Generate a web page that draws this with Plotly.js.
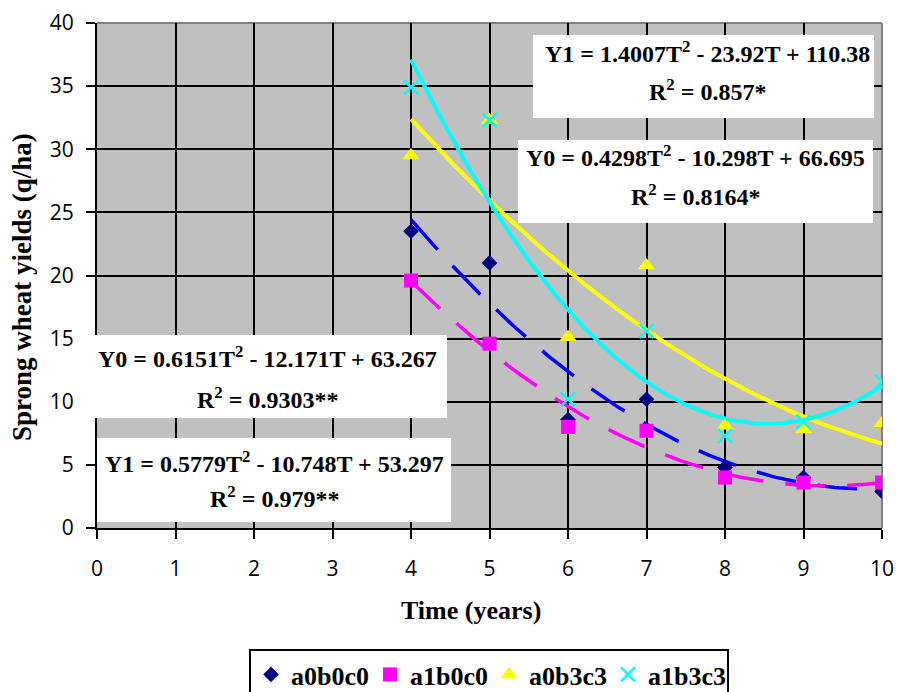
<!DOCTYPE html>
<html><head><meta charset="utf-8">
<script src="https://cdn.plot.ly/plotly-3.0.1.min.js"></script>
<style>html,body{margin:0;padding:0;background:#fff;} #chart{width:897px;height:692px;}</style>
</head><body><div id="chart"></div>
<script>
// ---- data ----
const years = [4, 5, 6, 7, 8, 9, 10];
const a0b0c0 = [23.5, 21.0, 8.6, 10.2, 4.8, 4.0, 2.9];
const a1b0c0 = [19.6, 14.6, 8.0, 7.7, 4.0, 3.6, 3.6];
const a0b3c3 = [29.5, 32.3, 15.1, 20.8, 8.1, 7.8, 8.3];
const a1b3c3 = [34.9, 32.3, 10.2, 15.6, 7.3, 8.4, 11.6];
const seriesNames = ['a0b0c0', 'a1b0c0', 'a0b3c3', 'a1b3c3'];
// quadratic trendline coefficients [a, b, c] : a*T^2 + b*T + c (printed on the chart)
const fitA0b0c0 = [0.6151, -12.171, 63.267];
const fitA1b0c0 = [0.5779, -10.748, 53.297];
const fitA0b3c3 = [0.4298, -10.298, 66.695];
const fitA1b3c3 = [1.4007, -23.92, 110.38];
const fitNames = ['Y0', 'Y1', 'Y0', 'Y1'];
const r2Values = ['0.9303**', '0.979**', '0.8164*', '0.857*'];
const xTickVals = [0, 1, 2, 3, 4, 5, 6, 7, 8, 9, 10];
const yTickVals = [0, 5, 10, 15, 20, 25, 30, 35, 40];
const xTitle = 'Time (years)';
const yTitle = 'Sprong wheat yields (q/ha)';

// ---- helpers ----
const W = 897, H = 692, ML = 97, MR = 15, MT = 23, MB = 164;
const PW = W - ML - MR, PH = H - MT - MB;
const X = p => (p - ML) / PW;
const Y = p => (H - MB - p) / PH;

const fits = [fitA0b0c0, fitA1b0c0, fitA0b3c3, fitA1b3c3];
const series = [a0b0c0, a1b0c0, a0b3c3, a1b3c3];
const trendX = [];
for (let i = 0; i <= 120; i++) trendX.push(years[0] + i * (years[years.length - 1] - years[0]) / 120);
const evalFit = (c, t) => c[0] * t * t + c[1] * t + c[2];

const lineColors = ['#0000FF', '#FF00FF', '#FFFF00', '#00FFFF'];
const lineDash = ['40px,22px', '40px,22px', 'solid', 'solid'];
const lineWidth = [3.5, 3.5, 4, 4];
const markerSym = ['diamond', 'square', 'triangle-up', 'x-thin'];
const markerCol = ['#000080', '#FF00FF', '#FFFF00', '#00FFFF'];
const markerSize = [12, 14, 15, 14];

const traces = [];
fits.forEach((c, i) => {
  traces.push({
    x: trendX, y: trendX.map(t => evalFit(c, t)), mode: 'lines', showlegend: false,
    hoverinfo: 'skip', line: {color: lineColors[i], width: lineWidth[i], dash: lineDash[i], shape: 'linear'}
  });
});
series.forEach((s, i) => {
  const m = {symbol: markerSym[i], color: markerCol[i], size: markerSize[i]};
  if (markerSym[i] === 'x-thin') m.line = {color: markerCol[i], width: 2.5};
  else m.line = {width: 0};
  traces.push({x: years, y: s, mode: 'markers', name: seriesNames[i], marker: m});
});

// equation boxes (pixel geometry) : order matches fits
const boxes = [
  {x0: 83, x1: 447, y0: 335, y1: 418, l1: 357, l2: 398, cx: 267},
  {x0: 97, x1: 451, y0: 438, y1: 522, l1: 462, l2: 497, cx: 274},
  {x0: 518, x1: 873, y0: 140, y1: 223, l1: 156, l2: 195, cx: 695},
  {x0: 533, x1: 874, y0: 35, y1: 118, l1: 52, l2: 90, cx: 707}
];
const fmt = v => String(Math.abs(v));
const shapes = [
  {type: 'line', xref: 'paper', yref: 'paper', x0: 0, x1: 1, y0: 1, y1: 1, line: {color: '#808080', width: 2}, layer: 'between'},
  {type: 'line', xref: 'paper', yref: 'paper', x0: 1, x1: 1, y0: 0, y1: 1, line: {color: '#808080', width: 2}, layer: 'between'}
];
const serif = {family: '"Liberation Serif", "Times New Roman", serif', size: 24, color: '#000', weight: 'bold'};
const annotations = [];
boxes.forEach((b, i) => {
  shapes.push({type: 'rect', xref: 'paper', yref: 'paper', x0: X(b.x0), x1: X(b.x1), y0: Y(b.y1), y1: Y(b.y0),
    fillcolor: '#FFFFFF', line: {width: 0}, layer: 'above'});
  const c = fits[i];
  const eq = fitNames[i] + ' = ' + fmt(c[0]) + 'T<sup>2</sup> ' + (c[1] < 0 ? '- ' : '+ ') + fmt(c[1]) + 'T ' + (c[2] < 0 ? '- ' : '+ ') + fmt(c[2]);
  annotations.push({xref: 'paper', yref: 'paper', x: X(b.cx), y: Y(b.l1), text: eq, showarrow: false,
    xanchor: 'center', yanchor: 'middle', font: serif});
  annotations.push({xref: 'paper', yref: 'paper', x: X(b.cx), y: Y(b.l2), text: 'R<sup>2</sup> = ' + r2Values[i], showarrow: false,
    xanchor: 'center', yanchor: 'middle', font: serif});
});
annotations.push({xref: 'paper', yref: 'paper', x: X(471), y: Y(610), text: xTitle, showarrow: false,
  xanchor: 'center', yanchor: 'middle', font: Object.assign({}, serif, {size: 26})});
annotations.push({xref: 'paper', yref: 'paper', x: X(22), y: Y(287), text: yTitle, showarrow: false, textangle: -90,
  xanchor: 'center', yanchor: 'middle', font: Object.assign({}, serif, {size: 27})});

const tickFont = {family: '"Open Sans", sans-serif', size: 21, color: '#000'};
const axisCommon = {
  showgrid: true, gridcolor: '#000000', gridwidth: 2, zeroline: false,
  showline: true, linecolor: '#000000', linewidth: 2,
  ticks: 'outside', ticklen: 9, tickwidth: 2, tickcolor: '#000000',
  tickfont: tickFont, fixedrange: true
};
const layout = {
  width: W, height: H,
  margin: {l: ML, r: MR, t: MT, b: MB, pad: 0, autoexpand: false},
  paper_bgcolor: '#FFFFFF', plot_bgcolor: '#C0C0C0',
  xaxis: Object.assign({}, axisCommon, {range: [0, 10], tickvals: xTickVals, ticklabelstandoff: 12, automargin: false}),
  yaxis: Object.assign({}, axisCommon, {range: [0, 40], tickvals: yTickVals, ticklabelstandoff: 8, automargin: false}),
  showlegend: true,
  legend: {orientation: 'h', x: X(249), y: Y(649), xanchor: 'left', yanchor: 'top',
    bgcolor: '#FFFFFF', bordercolor: '#000000', borderwidth: 2, entrywidth: 74, entrywidthmode: 'pixels',
    font: {family: '"Liberation Serif", "Times New Roman", serif', size: 26, color: '#000', weight: 'bold'},
    itemclick: false, itemdoubleclick: false},
  shapes: shapes, annotations: annotations
};
Plotly.newPlot('chart', traces, layout, {staticPlot: true, displayModeBar: false});
</script></body></html>
